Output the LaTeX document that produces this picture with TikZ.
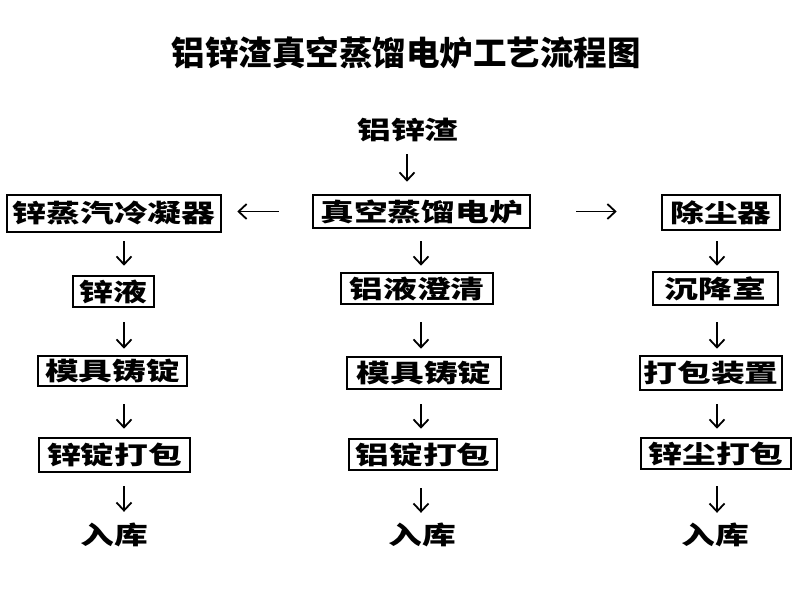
\documentclass[tikz,border=0pt]{standalone}
\usepackage{fontspec}
\setmainfont{Noto Sans CJK SC}
\newfontfamily\boxfont[FakeStretch=1.35]{Noto Sans CJK SC}
\newfontfamily\titlefont{Noto Sans CJK SC}
\usetikzlibrary{arrows.meta}
\begin{document}
\begin{tikzpicture}[x=1pt,y=-1pt,
  txt/.style={inner sep=0pt,font=\boxfont\bfseries\fontsize{25pt}{25pt}\selectfont},
  box/.style={txt,draw,line width=2.6pt,minimum width=#1},
  arr/.style={line width=1.8pt,-{Straight Barb[length=8pt,width=15pt,line width=1.8pt]}}]
\useasboundingbox[fill=white] (0,0) rectangle (800,600);
\node[inner sep=0pt,font=\titlefont\bfseries\fontsize{33.5pt}{34pt}\selectfont] (title) at (406,53) {铝锌渣真空蒸馏电炉工艺流程图};
\node[txt] (lxz) at (408,130) {铝锌渣};
\node[box=217pt,minimum height=33pt] (zk) at (421.5,211.5) {真空蒸馏电炉};
\node[box=214pt,minimum height=37pt] (zlq) at (114,213.5) {锌蒸汽冷凝器};
\node[box=118pt,minimum height=35pt] (ccq) at (721,212.5) {除尘器};
\node[box=81pt,minimum height=31pt] (zy) at (113.5,291.5) {锌液};
\node[box=152pt,minimum height=31pt] (lyc) at (417,288.5) {铝液澄清};
\node[box=125pt,minimum height=33pt] (cjs) at (715.5,288.5) {沉降室};
\node[box=149pt,minimum height=30pt] (mj1) at (112.5,371) {模具铸锭};
\node[box=154pt,minimum height=32pt] (mj2) at (424,373) {模具铸锭};
\node[box=142pt,minimum height=34pt] (dbz) at (711,373) {打包装置};
\node[box=151pt,minimum height=34pt] (zdd) at (114.5,455) {锌锭打包};
\node[box=148pt,minimum height=31pt] (ldd) at (423,454.5) {铝锭打包};
\node[box=150pt,minimum height=31pt] (zcd) at (716,453.5) {锌尘打包};
\node[txt,minimum height=36pt] (rk1) at (114,535) {入库};
\node[txt,minimum height=36pt] (rk2) at (422,535) {入库};
\node[txt,minimum height=36pt] (rk3) at (715,535) {入库};
\coordinate (axL) at (124,0);
\coordinate (axM) at (421,0);
\coordinate (axT) at (407,0);
\coordinate (axR) at (717,0);
% top
\draw[arr,shorten <=12pt,shorten >=12pt] (lxz.south -| axT) -- (zk.north -| axT);
\draw[arr,shorten <=33pt,shorten >=15pt] (zk.west) -- (zlq.east |- zk.west);
\draw[arr,shorten <=45pt,shorten >=44pt] (zk.east) -- (ccq.west |- zk.east);
% left column
\draw[arr,shorten <=8pt,shorten >=9pt] (zlq.south -| axL) -- (zy.north -| axL);
\draw[arr,shorten <=14pt,shorten >=6pt] (zy.south -| axL) -- (mj1.north -| axL);
\draw[arr,shorten <=17pt,shorten >=8pt] (mj1.south -| axL) -- (zdd.north -| axL);
\draw[arr,shorten <=13pt,shorten >=5pt] (zdd.south -| axL) -- (rk1.north -| axL);
% middle column
\draw[arr,shorten <=12pt,shorten >=6pt] (zk.south -| axM) -- (lyc.north -| axM);
\draw[arr,shorten <=17pt,shorten >=7pt] (lyc.south -| axM) -- (mj2.north -| axM);
\draw[arr,shorten <=14pt,shorten >=9pt] (mj2.south -| axM) -- (ldd.north -| axM);
\draw[arr,shorten <=17pt,shorten >=4pt] (ldd.south -| axM) -- (rk2.north -| axM);
% right column
\draw[arr,shorten <=10pt,shorten >=5pt] (ccq.south -| axR) -- (cjs.north -| axR);
\draw[arr,shorten <=16pt,shorten >=6pt] (cjs.south -| axR) -- (dbz.north -| axR);
\draw[arr,shorten <=13pt,shorten >=8pt] (dbz.south -| axR) -- (zcd.north -| axR);
\draw[arr,shorten <=16pt,shorten >=4pt] (zcd.south -| axR) -- (rk3.north -| axR);
\end{tikzpicture}
\end{document}
